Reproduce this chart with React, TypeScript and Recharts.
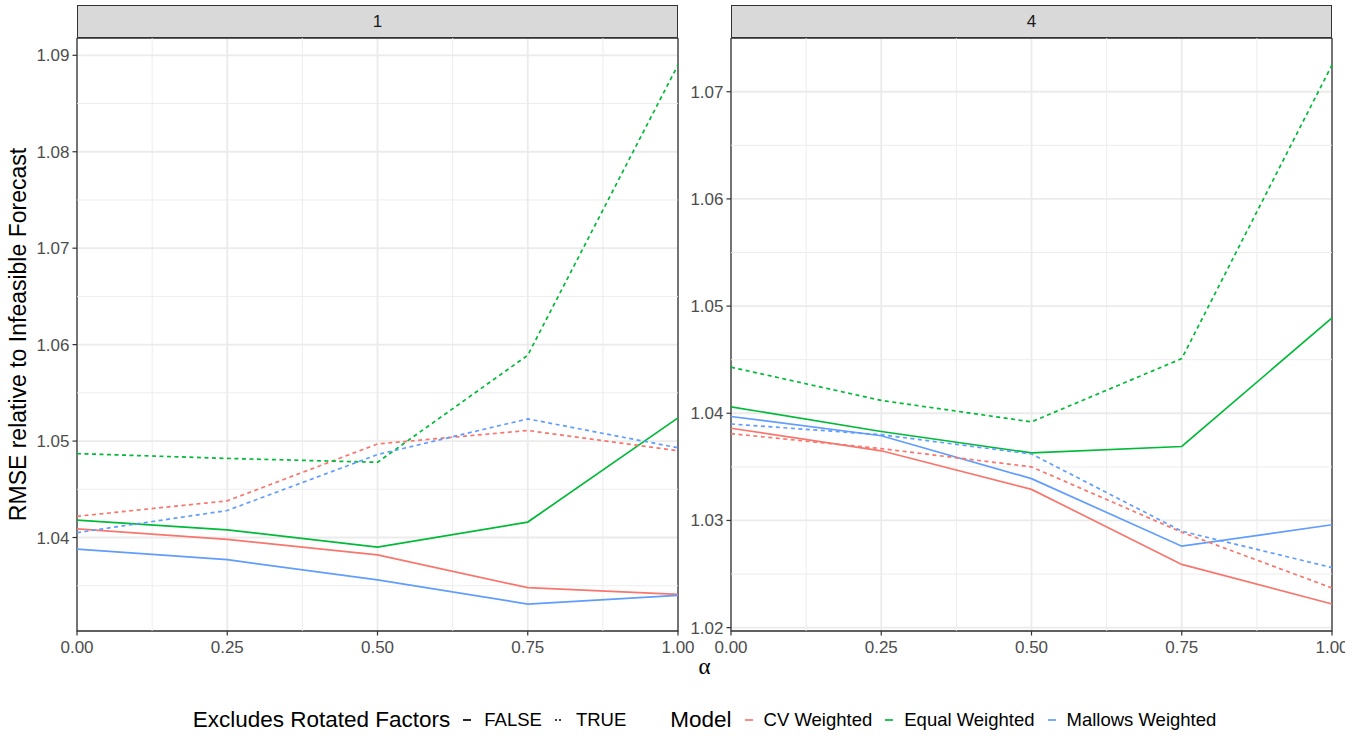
import React from "react"
import { LineChart, Line, XAxis, YAxis, CartesianGrid, ReferenceLine, ReferenceArea } from "recharts"

const FONT = "'Liberation Sans', Arial, Helvetica, sans-serif"
const COLORS = { cv: "#F8766D", eq: "#00BA38", ml: "#619CFF" }

// alpha values on the x axis
const alphas = [0, 0.25, 0.5, 0.75, 1]
const xTicks = [0, 0.25, 0.5, 0.75, 1]
const xMinor = [0.125, 0.375, 0.625, 0.875]

// panel "1"
const cvFalse1 = [1.0409, 1.0398, 1.0382, 1.0348, 1.0341]
const eqFalse1 = [1.0418, 1.0408, 1.039, 1.0416, 1.0524]
const mlFalse1 = [1.0388, 1.0377, 1.0356, 1.0331, 1.034]
const cvTrue1 = [1.0422, 1.0438, 1.0497, 1.0511, 1.049]
const eqTrue1 = [1.0487, 1.0482, 1.0478, 1.0589, 1.089]
const mlTrue1 = [1.0405, 1.0428, 1.0486, 1.0523, 1.0493]
const yTicks1 = [1.04, 1.05, 1.06, 1.07, 1.08, 1.09]
const yMinor1 = [1.035, 1.045, 1.055, 1.065, 1.075, 1.085]

// panel "4"
const cvFalse4 = [1.0386, 1.0365, 1.0329, 1.0259, 1.0222]
const eqFalse4 = [1.0406, 1.0383, 1.0363, 1.0369, 1.0489]
const mlFalse4 = [1.0397, 1.0379, 1.0339, 1.0276, 1.0296]
const cvTrue4 = [1.0381, 1.0367, 1.035, 1.0289, 1.0237]
const eqTrue4 = [1.0443, 1.0412, 1.0392, 1.0451, 1.0725]
const mlTrue4 = [1.039, 1.038, 1.0362, 1.029, 1.0256]
const yTicks4 = [1.02, 1.03, 1.04, 1.05, 1.06, 1.07]
const yMinor4 = [1.025, 1.035, 1.045, 1.055, 1.065]

const buildRows = (s: number[][]) =>
  alphas.map((a, i) => ({
    alpha: a,
    cvF: s[0][i],
    eqF: s[1][i],
    mlF: s[2][i],
    cvT: s[3][i],
    eqT: s[4][i],
    mlT: s[5][i],
  }))

// ggplot style 5% expansion
const expand = (s: number[][]) => {
  const all = s.flat()
  const lo = Math.min(...all)
  const hi = Math.max(...all)
  const pad = (hi - lo) * 0.05
  return [lo - pad, hi + pad]
}

const series1 = [cvFalse1, eqFalse1, mlFalse1, cvTrue1, eqTrue1, mlTrue1]
const series4 = [cvFalse4, eqFalse4, mlFalse4, cvTrue4, eqTrue4, mlTrue4]

const LINES = [
  { key: "cvF", color: COLORS.cv, dash: undefined },
  { key: "eqF", color: COLORS.eq, dash: undefined },
  { key: "mlF", color: COLORS.ml, dash: undefined },
  { key: "cvT", color: COLORS.cv, dash: "4 3.5" },
  { key: "eqT", color: COLORS.eq, dash: "4 3.5" },
  { key: "mlT", color: COLORS.ml, dash: "4 3.5" },
]

const tickStyle = { fill: "#4D4D4D", fontSize: 17, fontFamily: FONT }

// eslint-disable-next-line @typescript-eslint/no-explicit-any
const Panel = ({ series, yTicks, yMinor, left, width, yAxisWidth, marginRight }: any) => {
  const data = buildRows(series)
  const dom = expand(series)
  return (
    <div style={{ position: "absolute", left, top: 38 }}>
      <LineChart
        width={width}
        height={623}
        data={data}
        margin={{ top: 0, right: marginRight, bottom: 0, left: 0 }}
      >
        <CartesianGrid stroke="#EBEBEB" strokeWidth={1.8} />
        {xMinor.map((v) => (
          <ReferenceLine key={`x${v}`} x={v} stroke="#EBEBEB" strokeWidth={0.9} />
        ))}
        {yMinor.map((v: number) => (
          <ReferenceLine key={`y${v}`} y={v} stroke="#EBEBEB" strokeWidth={0.9} />
        ))}
        <XAxis
          dataKey="alpha"
          type="number"
          domain={[0, 1]}
          ticks={xTicks}
          tickFormatter={(v: number) => v.toFixed(2)}
          tick={tickStyle}
          tickLine={{ stroke: "#333333", strokeWidth: 1.2 }}
          tickSize={4.5}
          tickMargin={5}
          axisLine={false}
          height={30}
          interval={0}
        />
        <YAxis
          type="number"
          domain={dom}
          ticks={yTicks}
          tickFormatter={(v: number) => v.toFixed(2)}
          tick={tickStyle}
          tickLine={{ stroke: "#333333", strokeWidth: 1.2 }}
          tickSize={4.5}
          tickMargin={3}
          axisLine={false}
          width={yAxisWidth}
          interval={0}
          allowDataOverflow
        />
        {LINES.map((l) => (
          <Line
            key={l.key}
            dataKey={l.key}
            stroke={l.color}
            strokeWidth={1.7}
            strokeDasharray={l.dash}
            dot={false}
            activeDot={false}
            isAnimationActive={false}
            type="linear"
          />
        ))}
        <ReferenceArea
          x1={0}
          x2={1}
          y1={dom[0]}
          y2={dom[1]}
          fill="none"
          stroke="#333333"
          strokeWidth={1.3}
          ifOverflow="visible"
        />
      </LineChart>
    </div>
  )
}

const Strip = ({ left, width, label }: { left: number; width: number; label: string }) => (
  <div
    style={{
      position: "absolute",
      left,
      top: 5,
      width,
      height: 33,
      boxSizing: "border-box",
      background: "#D9D9D9",
      border: "1.3px solid #333333",
      display: "flex",
      alignItems: "center",
      justifyContent: "center",
      fontFamily: FONT,
      fontSize: 17,
      color: "#1A1A1A",
    }}
  >
    {label}
  </div>
)

const Key = ({ color, dash, right = 13 }: { color: string; dash?: string; right?: number }) => (
  <svg width={8} height={10} style={{ marginLeft: 13, marginRight: right }}>
    <line x1={0} y1={5} x2={8} y2={5} stroke={color} strokeWidth={1.7} strokeDasharray={dash} />
  </svg>
)

const legendText = { fontSize: 18.5, color: "#000" }
const legendTitle = { fontSize: 22.5, color: "#000" }

export default function App() {
  return (
    <div
      style={{
        position: "absolute",
        left: 0,
        top: 0,
        width: 1366,
        height: 736,
        background: "#fff",
        overflow: "hidden",
        fontFamily: FONT,
      }}
    >
      <Strip left={77} width={601} label="1" />
      <Strip left={731} width={601} label="4" />
      <Panel series={series1} yTicks={yTicks1} yMinor={yMinor1} left={0} width={720} yAxisWidth={77} marginRight={42} />
      <Panel series={series4} yTicks={yTicks4} yMinor={yMinor4} left={680} width={665} yAxisWidth={51} marginRight={13} />
      <svg width={1366} height={736} style={{ position: "absolute", left: 0, top: 0, pointerEvents: "none" }}>
        <text
          x={0}
          y={0}
          transform="translate(26,334.5) rotate(-90)"
          textAnchor="middle"
          fontFamily={FONT}
          fontSize={23}
          fill="#000"
        >
          RMSE relative to Infeasible Forecast
        </text>
        <text x={704.5} y={674} textAnchor="middle" fontFamily="'Liberation Serif', serif" fontSize={23} fill="#000">
          α
        </text>
      </svg>
      <div
        style={{
          position: "absolute",
          left: 143,
          width: 1123,
          top: 706,
          height: 28,
          display: "flex",
          alignItems: "center",
          justifyContent: "center",
        }}
      >
        <span style={legendTitle}>Excludes Rotated Factors</span>
        <Key color="#000" />
        <span style={legendText}>FALSE</span>
        <Key color="#000" dash="2 2" />
        <span style={{ ...legendText, marginRight: 44 }}>TRUE</span>
        <span style={legendTitle}>Model</span>
        <Key color={COLORS.cv} right={11} />
        <span style={legendText}>CV Weighted</span>
        <Key color={COLORS.eq} right={11} />
        <span style={legendText}>Equal Weighted</span>
        <Key color={COLORS.ml} right={11} />
        <span style={legendText}>Mallows Weighted</span>
      </div>
    </div>
  )
}
